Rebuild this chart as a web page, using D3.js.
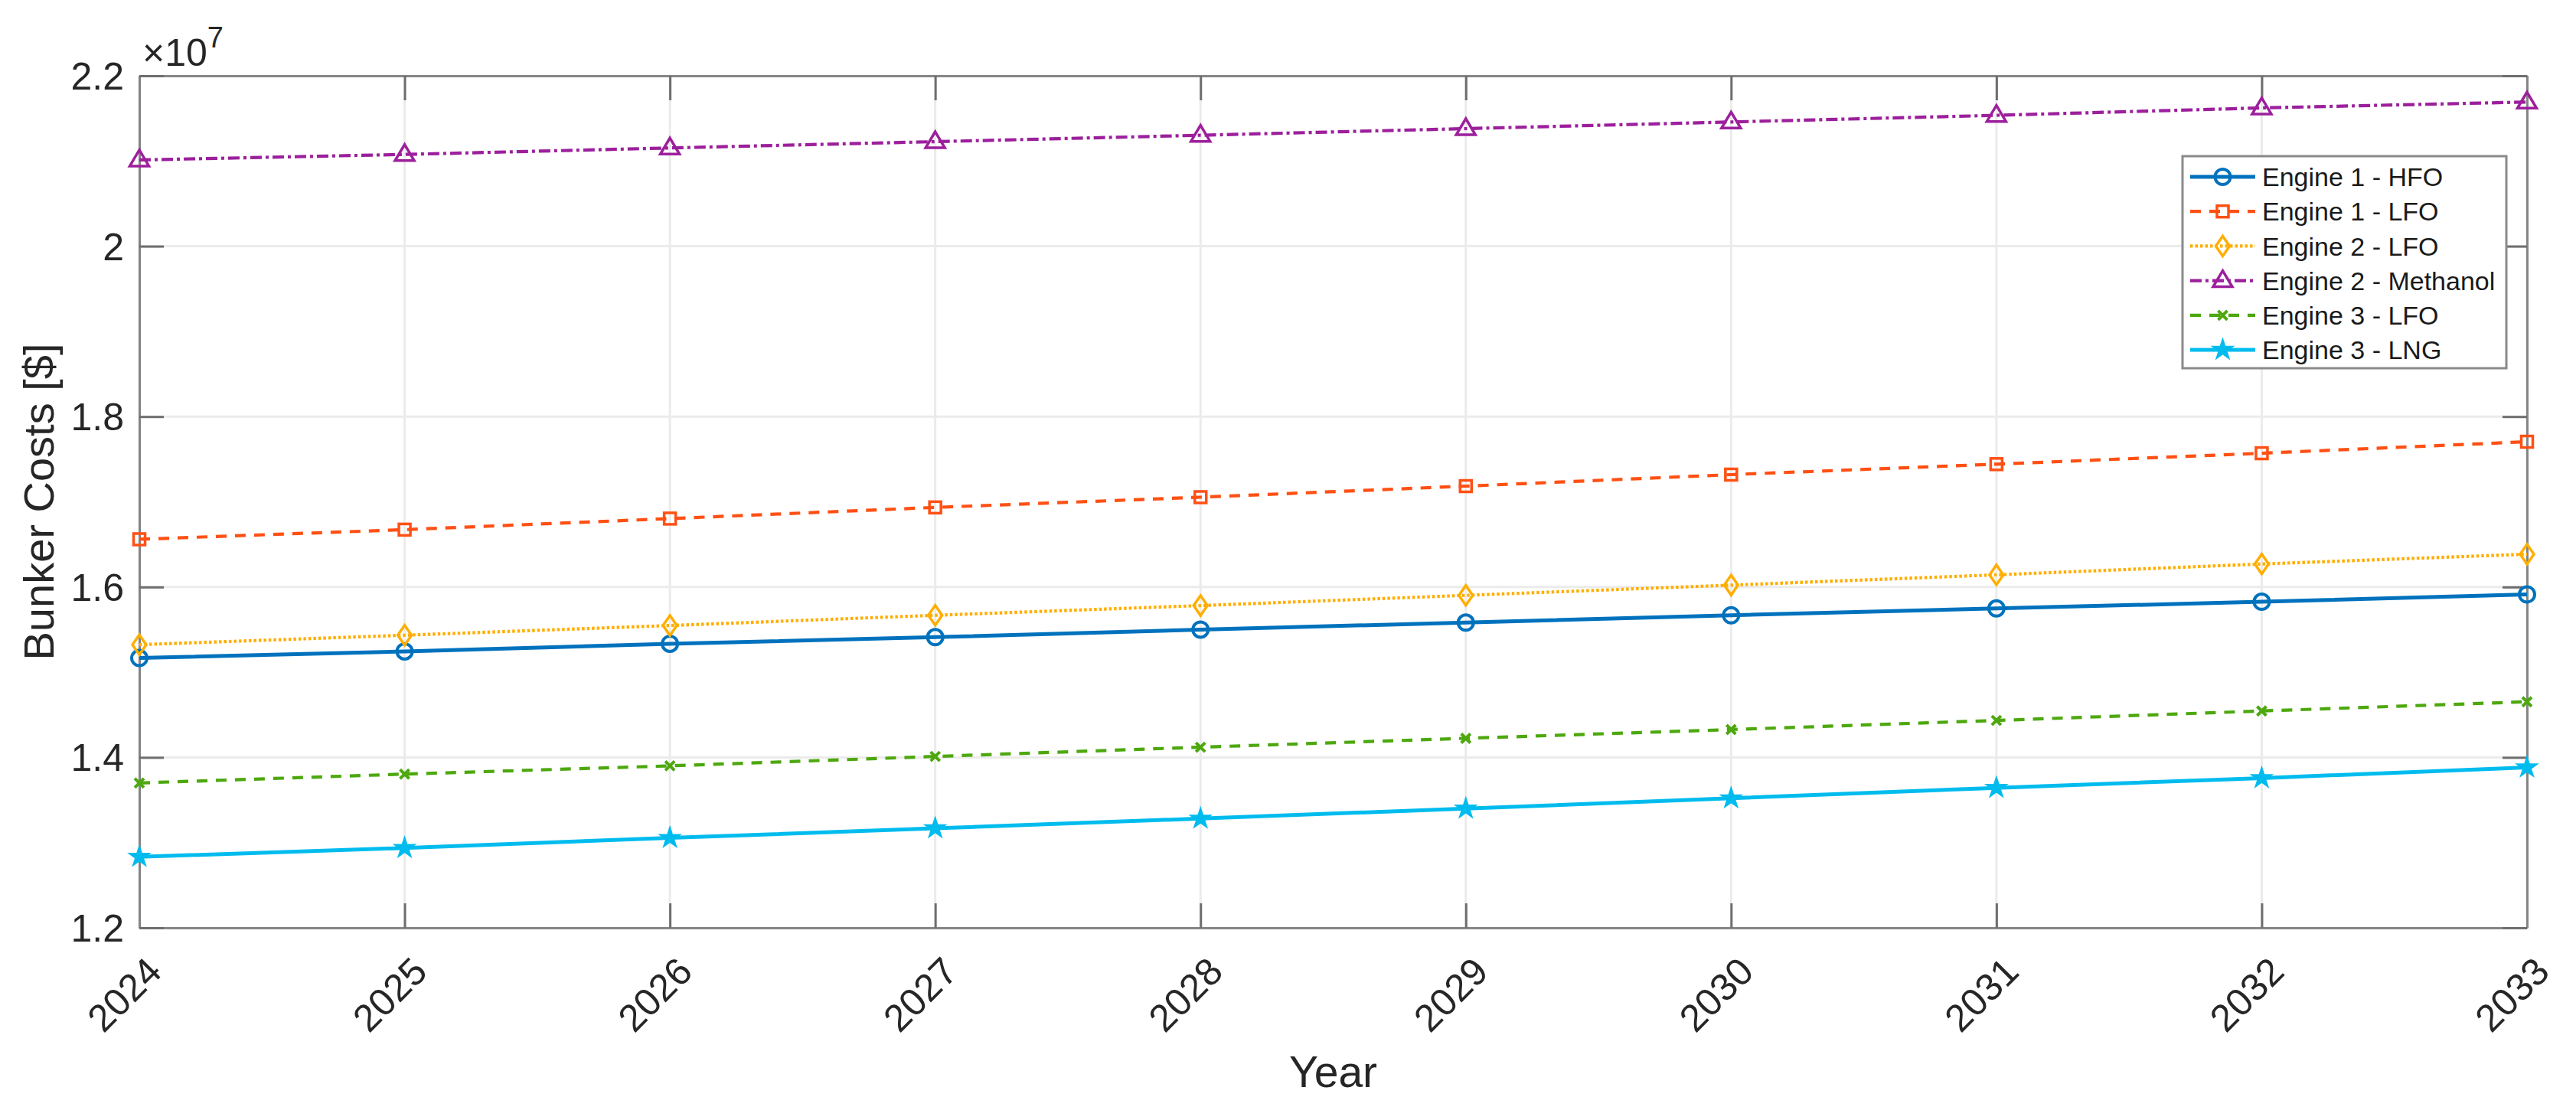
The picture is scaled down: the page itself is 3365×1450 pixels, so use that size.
<!DOCTYPE html>
<html>
<head>
<meta charset="utf-8">
<script src="https://cdn.jsdelivr.net/npm/d3@7"></script>
<style>
  html, body { margin: 0; padding: 0; background: #fff; }
  svg { display: block; font-family: "Liberation Sans", Arial, Helvetica, sans-serif; }
</style>
</head>
<body>
<svg id="chart" width="3365" height="1450"></svg>
<script>
// ---------- data ----------
const years = [2024, 2025, 2026, 2027, 2028, 2029, 2030, 2031, 2032, 2033];
const yearLabels = ["2024","2025","2026","2027","2028","2029","2030","2031","2032","2033"];
const yTicks = [1.2e7, 1.4e7, 1.6e7, 1.8e7, 2.0e7, 2.2e7];
const yTickLabels = ["1.2","1.4","1.6","1.8","2","2.2"];

const engine1HFO      = [1.5166e7, 1.5244e7, 1.5334e7, 1.5411e7, 1.5500e7, 1.5582e7, 1.5668e7, 1.5748e7, 1.5827e7, 1.5913e7];
const engine1LFO      = [1.6560e7, 1.6673e7, 1.6803e7, 1.6934e7, 1.7054e7, 1.7184e7, 1.7319e7, 1.7442e7, 1.7570e7, 1.7705e7];
const engine2LFO      = [1.5323e7, 1.5434e7, 1.5548e7, 1.5668e7, 1.5782e7, 1.5902e7, 1.6022e7, 1.6143e7, 1.6270e7, 1.6385e7];
const engine2Methanol = [2.1012e7, 2.1077e7, 2.1153e7, 2.1227e7, 2.1302e7, 2.1380e7, 2.1458e7, 2.1536e7, 2.1623e7, 2.1692e7];
const engine3LFO      = [1.3700e7, 1.3804e7, 1.3901e7, 1.4011e7, 1.4120e7, 1.4224e7, 1.4327e7, 1.4434e7, 1.4545e7, 1.4653e7];
const engine3LNG      = [1.2833e7, 1.2937e7, 1.3055e7, 1.3168e7, 1.3282e7, 1.3399e7, 1.3520e7, 1.3643e7, 1.3757e7, 1.3882e7];

const seriesNames = ["Engine 1 - HFO", "Engine 1 - LFO", "Engine 2 - LFO", "Engine 2 - Methanol", "Engine 3 - LFO", "Engine 3 - LNG"];
const seriesValues = [engine1HFO, engine1LFO, engine2LFO, engine2Methanol, engine3LFO, engine3LNG];

// ---------- styles ----------
const styles = [
  { color: "#0072BD", dash: null,          width: 5,   marker: "circle"   },
  { color: "#FF5014", dash: "14,11",       width: 4.2, marker: "square"   },
  { color: "#FFAE00", dash: "3.5,3",       width: 4.2, marker: "diamond"  },
  { color: "#9C1F9C", dash: "15,5,4,5",    width: 4.2, marker: "triangle" },
  { color: "#4DA80E", dash: "14,11",       width: 4.2, marker: "x"        },
  { color: "#00BCEE", dash: null,          width: 5,   marker: "star"     }
];

const svg = d3.select("#chart");
const L = 182, R = 3301, T = 99, B = 1212;
const x = d3.scaleLinear().domain([2024, 2033]).range([L, R]);
const y = d3.scaleLinear().domain([1.2e7, 2.2e7]).range([B, T]);

const axisColor = "#858585";
const textColor = "#262626";
const tickLen = 32;

// ---------- grid ----------
const grid = svg.append("g");
grid.selectAll("line.gx").data(years).join("line")
  .attr("x1", d => x(d)).attr("x2", d => x(d)).attr("y1", T).attr("y2", B)
  .attr("stroke", "#ebebeb").attr("stroke-width", 3);
grid.selectAll("line.gy").data(yTicks).join("line")
  .attr("x1", L).attr("x2", R).attr("y1", d => y(d)).attr("y2", d => y(d))
  .attr("stroke", "#ebebeb").attr("stroke-width", 3);

// ---------- axes ----------
const xAxisB = d3.axisBottom(x).tickValues(years).tickSizeInner(-tickLen).tickSizeOuter(0).tickFormat("");
const xAxisT = d3.axisTop(x).tickValues(years).tickSizeInner(-tickLen).tickSizeOuter(0).tickFormat("");
const yAxisL = d3.axisLeft(y).tickValues(yTicks).tickSizeInner(-tickLen).tickSizeOuter(0).tickFormat("");
const yAxisR = d3.axisRight(y).tickValues(yTicks).tickSizeInner(-tickLen).tickSizeOuter(0).tickFormat("");

const gxB = svg.append("g").attr("transform", `translate(0,${B})`).call(xAxisB);
const gxT = svg.append("g").attr("transform", `translate(0,${T})`).call(xAxisT);
const gyL = svg.append("g").attr("transform", `translate(${L},0)`).call(yAxisL);
const gyR = svg.append("g").attr("transform", `translate(${R},0)`).call(yAxisR);
[gxB, gxT, gyL, gyR].forEach(g => {
  g.select(".domain").attr("stroke", axisColor).attr("stroke-width", 3);
  g.selectAll(".tick line").attr("stroke", "#6e6e6e").attr("stroke-width", 3);
  g.selectAll(".tick text").remove();
});

// y tick labels
svg.append("g").selectAll("text").data(yTicks).join("text")
  .attr("x", L - 20).attr("y", d => y(d)).attr("dy", "0.36em")
  .attr("text-anchor", "end").attr("font-size", 50).attr("fill", textColor)
  .text((d, i) => yTickLabels[i]);

// x tick labels (rotated)
svg.append("g").selectAll("text").data(years).join("text")
  .attr("transform", d => `translate(${x(d) + 32},${B + 60}) rotate(-45)`)
  .attr("text-anchor", "end").attr("font-size", 50).attr("fill", textColor)
  .text((d, i) => yearLabels[i]);

// exponent
const expo = svg.append("text").attr("x", 186).attr("y", 86)
  .attr("font-size", 50).attr("fill", textColor);
expo.append("tspan").text("\u00d710");
expo.append("tspan").attr("dy", -24).attr("font-size", 38).text("7");

// axis titles
svg.append("text").attr("x", (L + R) / 2).attr("y", 1420)
  .attr("text-anchor", "middle").attr("font-size", 57).attr("fill", textColor).text("Year");
svg.append("text").attr("transform", `translate(70,${(T + B) / 2}) rotate(-90)`)
  .attr("text-anchor", "middle").attr("font-size", 56).attr("fill", textColor).text("Bunker Costs [$]");

// ---------- markers ----------
function drawMarker(g, type, cx, cy, color) {
  if (type === "circle") {
    g.append("circle").attr("cx", cx).attr("cy", cy).attr("r", 10)
      .attr("fill", "none").attr("stroke", color).attr("stroke-width", 4);
  } else if (type === "square") {
    g.append("rect").attr("x", cx - 7.5).attr("y", cy - 7.5).attr("width", 15).attr("height", 15)
      .attr("fill", "none").attr("stroke", color).attr("stroke-width", 3.5);
  } else if (type === "diamond") {
    g.append("path").attr("d", `M${cx},${cy - 13}L${cx + 9},${cy}L${cx},${cy + 13}L${cx - 9},${cy}Z`)
      .attr("fill", "none").attr("stroke", color).attr("stroke-width", 3.5);
  } else if (type === "triangle") {
    g.append("path").attr("d", `M${cx},${cy - 13}L${cx + 12.5},${cy + 8}L${cx - 12.5},${cy + 8}Z`)
      .attr("fill", "none").attr("stroke", color).attr("stroke-width", 3.5);
  } else if (type === "x") {
    g.append("path").attr("d", `M${cx - 6},${cy - 6}L${cx + 6},${cy + 6}M${cx + 6},${cy - 6}L${cx - 6},${cy + 6}`)
      .attr("fill", "none").attr("stroke", color).attr("stroke-width", 4);
  } else if (type === "star") {
    g.append("path").attr("d", d3.symbol(d3.symbolStar, 230)())
      .attr("transform", `translate(${cx},${cy})`)
      .attr("fill", color).attr("stroke", color).attr("stroke-width", 1.5);
  }
}

// ---------- lines ----------
const line = d3.line().x((d, i) => x(years[i])).y(d => y(d));
const plot = svg.append("g");
seriesValues.forEach((vals, si) => {
  const st = styles[si];
  plot.append("path").datum(vals).attr("d", line)
    .attr("fill", "none").attr("stroke", st.color).attr("stroke-width", st.width)
    .attr("stroke-dasharray", st.dash);
  const mg = plot.append("g");
  vals.forEach((v, i) => drawMarker(mg, st.marker, x(years[i]), y(v), st.color));
});

// ---------- legend ----------
const lg = svg.append("g");
lg.append("rect").attr("x", 2851).attr("y", 204).attr("width", 423).attr("height", 277)
  .attr("fill", "#fff").attr("stroke", "#8a8a8a").attr("stroke-width", 3);
seriesNames.forEach((name, i) => {
  const st = styles[i];
  const cy = 231 + i * 45.2;
  lg.append("line").attr("x1", 2861).attr("x2", 2946).attr("y1", cy).attr("y2", cy)
    .attr("stroke", st.color).attr("stroke-width", st.width).attr("stroke-dasharray", st.dash);
  drawMarker(lg, st.marker, 2903.5, cy, st.color);
  lg.append("text").attr("x", 2955).attr("y", cy).attr("dy", "0.36em")
    .attr("font-size", 34).attr("fill", "#1a1a1a").text(name);
});
</script>
</body>
</html>
